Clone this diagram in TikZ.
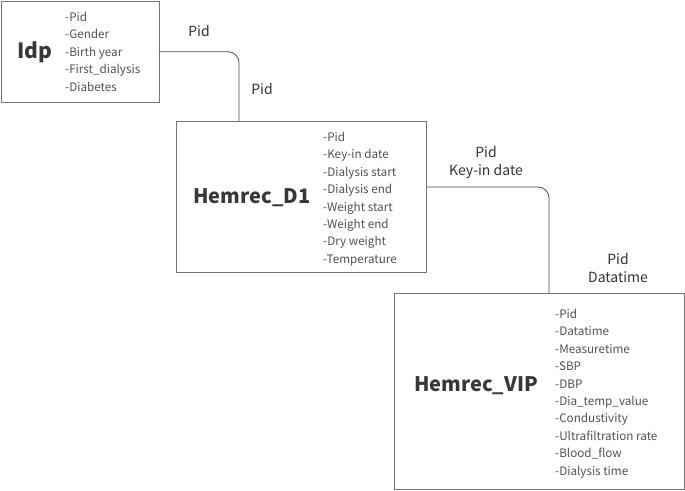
\documentclass[tikz,border=0pt]{standalone}
\usepackage{fontspec}
\setmainfont{Noto Sans CJK KR}
\begin{document}
\begin{tikzpicture}[x=1pt,y=-1pt,
  tbl/.style={draw=black!55,line width=0.9pt,fill=white,anchor=north west,inner sep=0pt},
  title/.style={font=\fontsize{21}{24}\selectfont\bfseries,text=black!78,anchor=center},
  fields/.style={font=\fontsize{11.7}{17.4}\selectfont,text=black!68,align=left,anchor=north west,inner sep=0pt},
  lab/.style={font=\fontsize{14}{18}\selectfont,text=black!80,align=center},
  conn/.style={draw=black!70,line width=0.8pt,rounded corners=11pt}]
\useasboundingbox (0,0) rectangle (685,490);
% tables
\node[tbl,minimum width=158.5pt,minimum height=101.5pt] (idp) at (0.5,0.5) {};
\node[title] (idpt) at (35,52) {Idp};
\node[fields] (idpf) at (65,12) {-Pid\\-Gender\\-Birth year\\-First\_dialysis\\-Diabetes};

\node[tbl,minimum width=250pt,minimum height=151pt] (d1) at (176,121) {};
\node[title,font=\fontsize{20}{24}\selectfont\bfseries] (d1t) at (252,198) {Hemrec\_D1};
\node[fields] (d1f) at (323,132) {-Pid\\-Key-in date\\-Dialysis start\\-Dialysis end\\-Weight start\\-Weight end\\-Dry weight\\-Temperature};

\node[tbl,minimum width=290pt,minimum height=196pt] (vip) at (394,293) {};
\node[title,font=\fontsize{20}{24}\selectfont\bfseries] (vipt) at (476,386) {Hemrec\_VIP};
\node[fields] (vipf) at (555,309) {-Pid\\-Datatime\\-Measuretime\\-SBP\\-DBP\\-Dia\_temp\_value\\-Condustivity\\-Ultrafiltration rate\\-Blood\_flow\\-Dialysis time};

% connectors
\coordinate (k1) at (239,51);
\coordinate (k2) at (549,187);
\draw[conn] (idp.east) -| (k1 |- d1.north);
\draw[conn] (d1.east |- k2) -| (k2 |- vip.north);

% labels
\node[lab] (l1) at (199,31) {Pid};
\node[lab] (l2) at (262,89) {Pid};
\node[lab] (l3) at (486,163) {Pid\\Key-in date};
\node[lab] (l4) at (618,268) {Pid\\Datatime};
\end{tikzpicture}
\end{document}
